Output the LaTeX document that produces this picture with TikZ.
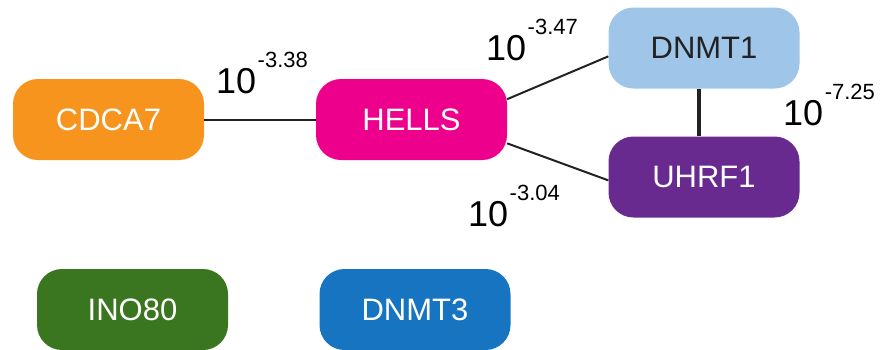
\documentclass[tikz,border=0pt]{standalone}
\usepackage{fontspec}
\setmainfont{Liberation Sans}
\usetikzlibrary{calc}

\definecolor{cOrange}{HTML}{F7941E}
\definecolor{cMagenta}{HTML}{EC008C}
\definecolor{cLightBlue}{HTML}{9FC5E8}
\definecolor{cPurple}{HTML}{682A8F}
\definecolor{cGreen}{HTML}{3A7520}
\definecolor{cBlue}{HTML}{1674C0}
\definecolor{cInk}{HTML}{222222}

\tikzset{
  gene/.style={rectangle, rounded corners=25pt, draw=none, inner sep=0pt,
    minimum width=191pt, minimum height=81pt, text=white,
    font=\fontsize{31}{31}\selectfont},
  link/.style={draw=cInk, line width=2pt},
  strong link/.style={draw=cInk, line width=4.5pt},
  pval/.style={anchor=base west, inner sep=0pt, text=black}
}

% p-value label: 10 raised to a power
\newcommand{\pvalue}[1]{{\fontsize{36}{36}\selectfont 10}\hspace{1.5pt}\raisebox{26pt}{\fontsize{22}{22}\selectfont #1}}

\begin{document}
\begin{tikzpicture}[x=1pt, y=-1pt]
  \useasboundingbox (0,0) rectangle (886,349);

  % genes
  \node[gene, fill=cOrange]    (cdca7) at (108.5,119.5) {CDCA7};
  \node[gene, fill=cMagenta]   (hells) at (411.5,119.5) {HELLS};
  \node[gene, fill=cLightBlue, text=cInk] (dnmt1) at (704,48) {DNMT1};
  \node[gene, fill=cPurple]    (uhrf1) at (704,177) {UHRF1};
  \node[gene, fill=cGreen]     (ino80) at (132.5,309.5) {INO80};
  \node[gene, fill=cBlue]      (dnmt3) at (415,309.5) {DNMT3};

  % interactions
  \draw[link] (cdca7.east) -- (hells.west);
  \draw[link] (hells.12) -- (dnmt1.185);
  \draw[link] (hells.-14) -- (uhrf1.182);
  \draw[strong link] ([xshift=-5pt]dnmt1.south) -- ([xshift=-5pt]uhrf1.north);

  % p-values
  \node[pval] (p1) at (216,93)  {\pvalue{-3.38}};
  \node[pval] (p2) at (486,60)  {\pvalue{-3.47}};
  \node[pval] (p3) at (468,226) {\pvalue{-3.04}};
  \node[pval] (p4) at (783,125) {\pvalue{-7.25}};
\end{tikzpicture}
\end{document}
